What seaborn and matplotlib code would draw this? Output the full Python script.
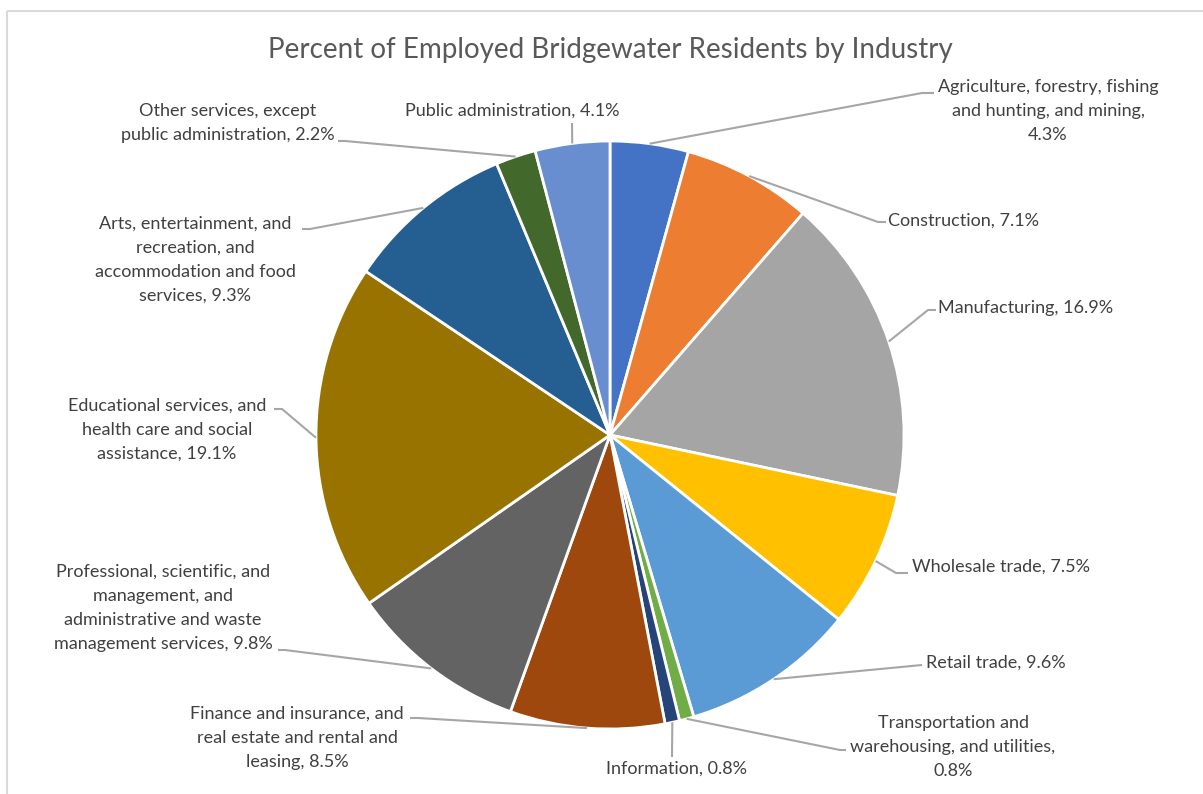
import numpy as np
import seaborn as sns
import matplotlib
matplotlib.use("Agg")
import matplotlib.pyplot as plt
from matplotlib.patches import Rectangle

# data, clockwise from 12 o'clock
industries = [
    "Agriculture, forestry, fishing\nand hunting, and mining,\n4.3%",
    "Construction, 7.1%",
    "Manufacturing, 16.9%",
    "Wholesale trade, 7.5%",
    "Retail trade, 9.6%",
    "Transportation and\nwarehousing, and utilities,\n0.8%",
    "Information, 0.8%",
    "Finance and insurance, and\nreal estate and rental and\nleasing, 8.5%",
    "Professional, scientific, and\nmanagement, and\nadministrative and waste\nmanagement services, 9.8%",
    "Educational services, and\nhealth care and social\nassistance, 19.1%",
    "Arts, entertainment, and\nrecreation, and\naccommodation and food\nservices, 9.3%",
    "Other services, except\npublic administration, 2.2%",
    "Public administration, 4.1%",
]
percents = [4.3, 7.1, 16.9, 7.5, 9.6, 0.8, 0.8, 8.5, 9.8, 19.1, 9.3, 2.2, 4.1]
colors = ["#4472C4", "#ED7D31", "#A5A5A5", "#FFC000", "#5B9BD5", "#70AD47",
          "#264478", "#9E480E", "#636363", "#997300", "#255E91", "#43682B",
          "#698ED0"]

# label layout in pixel coords (y down): text point, alignment, leader path
label_pos = [(1048, 111, "center"), (888, 221, "left"), (938, 308, "left"),
             (912, 567, "left"), (926, 663, "left"), (953, 747, "center"),
             (676, 769, "center"), (297, 738, "center"), (163, 608, "center"),
             (167, 430, "center"), (195, 260, "center"), (228, 123, "center"),
             (512, 111, "center")]
leader_paths = [[(922, 93), (934, 93)], [(878, 222), (886, 222)],
                [(928, 310), (936, 310)], [(896, 573), (908, 573)],
                [(922, 665)], [(840, 750), (846, 750)], [(672, 757)],
                [(418, 718), (410, 718)], [(285, 650), (278, 650)],
                [(282, 409), (274, 409)], [(310, 229), (302, 229)],
                [(345, 141), (338, 141)], [(572, 123)]]

sns.set_theme(style="white")
plt.rcParams["font.family"] = ["Lato", "DejaVu Sans"]

W, H = 1203, 794
fig = plt.figure(figsize=(W / 100, H / 100), dpi=100)
ax = fig.add_axes([0, 0, 1, 1])
cx, cy, r = 610, 435, 294

wedges, _ = ax.pie(percents, colors=colors, startangle=-90, counterclock=True,
                   center=(cx, cy), radius=r,
                   wedgeprops=dict(edgecolor="white", linewidth=2))
ax.set_xlim(0, W)
ax.set_ylim(H, 0)
ax.set_aspect("auto")
ax.axis("off")

for w, lab, (tx, ty, ha), path in zip(wedges, industries, label_pos, leader_paths):
    mid = np.deg2rad((w.theta1 + w.theta2) / 2)
    ax_x = cx + r * np.cos(mid)
    ax_y = cy + r * np.sin(mid)
    xs = [ax_x] + [p[0] for p in path]
    ys = [ax_y] + [p[1] for p in path]
    ax.plot(xs, ys, color="#A6A6A6", lw=1.5, solid_capstyle="butt")
    ax.text(tx, ty, lab, ha=ha, va="center", multialignment="center",
            fontsize=13, color="#404040", linespacing=1.62)

ax.text(610, 50, "Percent of Employed Bridgewater Residents by Industry",
        ha="center", va="center", fontsize=20, color="#595959")

ax.add_patch(Rectangle((7, 11), 1220, 820, fill=False, edgecolor="#D9D9D9",
                       lw=1.5, clip_on=False))

fig.savefig("out.png", dpi=100, facecolor="white")
